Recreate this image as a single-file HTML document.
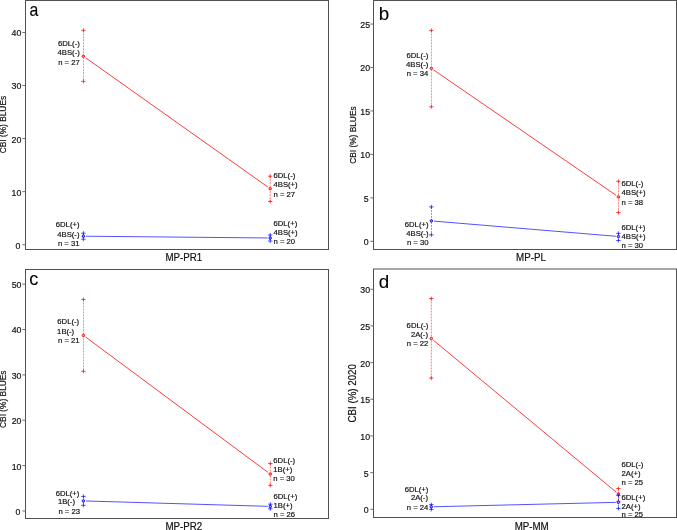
<!DOCTYPE html>
<html><head><meta charset="utf-8"><style>
html,body{margin:0;padding:0;background:#fff;}
body{width:677px;height:530px;overflow:hidden;}
svg{display:block;font-family:"Liberation Sans", sans-serif;will-change:transform;filter:blur(0.3px);}
</style></head><body>
<svg width="677" height="530" viewBox="0 0 677 530">
<rect width="677" height="530" fill="#fff"/>
<rect x="25.5" y="0.5" width="303.0" height="249.0" fill="none" stroke="#505050" stroke-width="1"/>
<line x1="22.3" y1="244.7" x2="25.5" y2="244.7" stroke="#606060" stroke-width="0.9"/>
<text transform="translate(20.30 248.60) scale(1.0 1.04)" font-size="8.8" text-anchor="end" fill="#111" stroke="#111" stroke-width="0.18">0</text>
<line x1="22.3" y1="191.65" x2="25.5" y2="191.65" stroke="#606060" stroke-width="0.9"/>
<text transform="translate(21.30 195.55) scale(1.0 1.04)" font-size="8.8" text-anchor="end" fill="#111" stroke="#111" stroke-width="0.18">10</text>
<line x1="22.3" y1="138.6" x2="25.5" y2="138.6" stroke="#606060" stroke-width="0.9"/>
<text transform="translate(21.30 142.50) scale(1.0 1.04)" font-size="8.8" text-anchor="end" fill="#111" stroke="#111" stroke-width="0.18">20</text>
<line x1="22.3" y1="85.55" x2="25.5" y2="85.55" stroke="#606060" stroke-width="0.9"/>
<text transform="translate(21.30 89.45) scale(1.0 1.04)" font-size="8.8" text-anchor="end" fill="#111" stroke="#111" stroke-width="0.18">30</text>
<line x1="22.3" y1="32.5" x2="25.5" y2="32.5" stroke="#606060" stroke-width="0.9"/>
<text transform="translate(21.30 36.40) scale(1.0 1.04)" font-size="8.8" text-anchor="end" fill="#111" stroke="#111" stroke-width="0.18">40</text>
<line x1="85.52" y1="57.70" x2="268.08" y2="187.20" stroke="#ff3c3c" stroke-width="1"/>
<line x1="86.00" y1="236.23" x2="267.60" y2="237.97" stroke="#5252ff" stroke-width="1"/>
<line x1="83.4" y1="30.3" x2="83.4" y2="81.4" stroke="#ff0000" stroke-width="0.7" stroke-dasharray="2,1" opacity="0.75"/>
<path d="M81.2 30.3h4.4M83.4 28.3v4" stroke="#ff0000" stroke-width="0.7"/>
<path d="M81.2 81.4h4.4M83.4 79.4v4" stroke="#ff0000" stroke-width="0.7"/>
<circle cx="83.4" cy="56.2" r="1.25" fill="#ff9a9a" stroke="#ff0000" stroke-width="0.9"/>
<line x1="270.2" y1="176.2" x2="270.2" y2="201.5" stroke="#ff0000" stroke-width="0.7" stroke-dasharray="2,1" opacity="0.75"/>
<path d="M268.0 176.2h4.4M270.2 174.2v4" stroke="#ff0000" stroke-width="0.7"/>
<path d="M268.0 201.5h4.4M270.2 199.5v4" stroke="#ff0000" stroke-width="0.7"/>
<circle cx="270.2" cy="188.7" r="1.25" fill="#ff9a9a" stroke="#ff0000" stroke-width="0.9"/>
<line x1="83.4" y1="233.2" x2="83.4" y2="239.2" stroke="#0000ff" stroke-width="0.7" stroke-dasharray="2,1" opacity="0.75"/>
<path d="M81.2 233.2h4.4M83.4 231.2v4" stroke="#0000ff" stroke-width="0.7"/>
<path d="M81.2 239.2h4.4M83.4 237.2v4" stroke="#0000ff" stroke-width="0.7"/>
<circle cx="83.4" cy="236.2" r="1.25" fill="#9a9aff" stroke="#0000ff" stroke-width="0.9"/>
<line x1="270.2" y1="235" x2="270.2" y2="241" stroke="#0000ff" stroke-width="0.7" stroke-dasharray="2,1" opacity="0.75"/>
<path d="M268.0 235h4.4M270.2 233v4" stroke="#0000ff" stroke-width="0.7"/>
<path d="M268.0 241h4.4M270.2 239v4" stroke="#0000ff" stroke-width="0.7"/>
<circle cx="270.2" cy="238" r="1.25" fill="#9a9aff" stroke="#0000ff" stroke-width="0.9"/>
<text transform="translate(79.80 46.00) scale(1.0 1.04)" font-size="7.7" text-anchor="end" fill="#111" stroke="#111" stroke-width="0.18">6DL(-)</text>
<text transform="translate(79.80 55.30) scale(1.0 1.04)" font-size="7.7" text-anchor="end" fill="#111" stroke="#111" stroke-width="0.18">4BS(-)</text>
<text transform="translate(79.80 64.50) scale(1.0 1.04)" font-size="7.7" text-anchor="end" fill="#111" stroke="#111" stroke-width="0.18">n = 27</text>
<text transform="translate(273.50 177.90) scale(1.0 1.04)" font-size="7.7" text-anchor="start" fill="#111" stroke="#111" stroke-width="0.18">6DL(-)</text>
<text transform="translate(273.50 187.20) scale(1.0 1.04)" font-size="7.7" text-anchor="start" fill="#111" stroke="#111" stroke-width="0.18">4BS(+)</text>
<text transform="translate(273.50 196.90) scale(1.0 1.04)" font-size="7.7" text-anchor="start" fill="#111" stroke="#111" stroke-width="0.18">n = 27</text>
<text transform="translate(79.50 227.20) scale(1.0 1.04)" font-size="7.7" text-anchor="end" fill="#111" stroke="#111" stroke-width="0.18">6DL(+)</text>
<text transform="translate(79.50 236.60) scale(1.0 1.04)" font-size="7.7" text-anchor="end" fill="#111" stroke="#111" stroke-width="0.18">4BS(-)</text>
<text transform="translate(79.50 245.70) scale(1.0 1.04)" font-size="7.7" text-anchor="end" fill="#111" stroke="#111" stroke-width="0.18">n = 31</text>
<text transform="translate(273.50 225.50) scale(1.0 1.04)" font-size="7.7" text-anchor="start" fill="#111" stroke="#111" stroke-width="0.18">6DL(+)</text>
<text transform="translate(273.50 234.80) scale(1.0 1.04)" font-size="7.7" text-anchor="start" fill="#111" stroke="#111" stroke-width="0.18">4BS(+)</text>
<text transform="translate(273.50 244.30) scale(1.0 1.04)" font-size="7.7" text-anchor="start" fill="#111" stroke="#111" stroke-width="0.18">n = 20</text>
<text transform="translate(29.40 15.80) scale(0.87 1.0)" font-size="18.2" text-anchor="start" fill="#000" stroke="#000" stroke-width="0.1">a</text>
<text transform="translate(183.80 260.80) scale(1.0 1.04)" font-size="9.75" text-anchor="middle" fill="#111" stroke="#111" stroke-width="0.18">MP-PR1</text>
<text transform="translate(6.2,124.6) rotate(-90) scale(1 1.04)" x="0" y="0" font-size="8.35" text-anchor="middle" fill="#111" stroke="#111" stroke-width="0.18">CBI (%) BLUEs</text>
<rect x="373.5" y="0.5" width="303.0" height="249.0" fill="none" stroke="#505050" stroke-width="1"/>
<line x1="370.3" y1="241.3" x2="373.5" y2="241.3" stroke="#606060" stroke-width="0.9"/>
<text transform="translate(368.60 245.20) scale(1.0 1.04)" font-size="8.8" text-anchor="end" fill="#111" stroke="#111" stroke-width="0.18">0</text>
<line x1="370.3" y1="197.85" x2="373.5" y2="197.85" stroke="#606060" stroke-width="0.9"/>
<text transform="translate(368.60 201.75) scale(1.0 1.04)" font-size="8.8" text-anchor="end" fill="#111" stroke="#111" stroke-width="0.18">5</text>
<line x1="370.3" y1="154.4" x2="373.5" y2="154.4" stroke="#606060" stroke-width="0.9"/>
<text transform="translate(370.10 158.30) scale(1.0 1.04)" font-size="8.8" text-anchor="end" fill="#111" stroke="#111" stroke-width="0.18">10</text>
<line x1="370.3" y1="110.95" x2="373.5" y2="110.95" stroke="#606060" stroke-width="0.9"/>
<text transform="translate(370.10 114.85) scale(1.0 1.04)" font-size="8.8" text-anchor="end" fill="#111" stroke="#111" stroke-width="0.18">15</text>
<line x1="370.3" y1="67.5" x2="373.5" y2="67.5" stroke="#606060" stroke-width="0.9"/>
<text transform="translate(370.10 71.40) scale(1.0 1.04)" font-size="8.8" text-anchor="end" fill="#111" stroke="#111" stroke-width="0.18">20</text>
<line x1="370.3" y1="24.05" x2="373.5" y2="24.05" stroke="#606060" stroke-width="0.9"/>
<text transform="translate(370.10 27.95) scale(1.0 1.04)" font-size="8.8" text-anchor="end" fill="#111" stroke="#111" stroke-width="0.18">25</text>
<line x1="433.49" y1="69.87" x2="616.26" y2="195.43" stroke="#ff3c3c" stroke-width="1"/>
<line x1="433.94" y1="221.12" x2="615.81" y2="236.28" stroke="#5252ff" stroke-width="1"/>
<line x1="431.35" y1="30.4" x2="431.35" y2="106.8" stroke="#ff0000" stroke-width="0.7" stroke-dasharray="2,1" opacity="0.75"/>
<path d="M429.15000000000003 30.4h4.4M431.35 28.4v4" stroke="#ff0000" stroke-width="0.7"/>
<path d="M429.15000000000003 106.8h4.4M431.35 104.8v4" stroke="#ff0000" stroke-width="0.7"/>
<circle cx="431.35" cy="68.4" r="1.25" fill="#ff9a9a" stroke="#ff0000" stroke-width="0.9"/>
<line x1="618.4" y1="181.3" x2="618.4" y2="212.6" stroke="#ff0000" stroke-width="0.7" stroke-dasharray="2,1" opacity="0.75"/>
<path d="M616.1999999999999 181.3h4.4M618.4 179.3v4" stroke="#ff0000" stroke-width="0.7"/>
<path d="M616.1999999999999 212.6h4.4M618.4 210.6v4" stroke="#ff0000" stroke-width="0.7"/>
<circle cx="618.4" cy="196.9" r="1.25" fill="#ff9a9a" stroke="#ff0000" stroke-width="0.9"/>
<line x1="431.35" y1="206.9" x2="431.35" y2="234.9" stroke="#0000ff" stroke-width="0.7" stroke-dasharray="2,1" opacity="0.75"/>
<path d="M429.15000000000003 206.9h4.4M431.35 204.9v4" stroke="#0000ff" stroke-width="0.7"/>
<path d="M429.15000000000003 234.9h4.4M431.35 232.9v4" stroke="#0000ff" stroke-width="0.7"/>
<circle cx="431.35" cy="220.9" r="1.25" fill="#9a9aff" stroke="#0000ff" stroke-width="0.9"/>
<line x1="618.4" y1="233.4" x2="618.4" y2="240.5" stroke="#0000ff" stroke-width="0.7" stroke-dasharray="2,1" opacity="0.75"/>
<path d="M616.1999999999999 233.4h4.4M618.4 231.4v4" stroke="#0000ff" stroke-width="0.7"/>
<path d="M616.1999999999999 240.5h4.4M618.4 238.5v4" stroke="#0000ff" stroke-width="0.7"/>
<circle cx="618.4" cy="236.5" r="1.25" fill="#9a9aff" stroke="#0000ff" stroke-width="0.9"/>
<text transform="translate(428.30 57.90) scale(1.0 1.04)" font-size="7.7" text-anchor="end" fill="#111" stroke="#111" stroke-width="0.18">6DL(-)</text>
<text transform="translate(428.30 66.60) scale(1.0 1.04)" font-size="7.7" text-anchor="end" fill="#111" stroke="#111" stroke-width="0.18">4BS(-)</text>
<text transform="translate(428.30 76.10) scale(1.0 1.04)" font-size="7.7" text-anchor="end" fill="#111" stroke="#111" stroke-width="0.18">n = 34</text>
<text transform="translate(621.50 186.00) scale(1.0 1.04)" font-size="7.7" text-anchor="start" fill="#111" stroke="#111" stroke-width="0.18">6DL(-)</text>
<text transform="translate(621.50 195.10) scale(1.0 1.04)" font-size="7.7" text-anchor="start" fill="#111" stroke="#111" stroke-width="0.18">4BS(+)</text>
<text transform="translate(621.50 204.70) scale(1.0 1.04)" font-size="7.7" text-anchor="start" fill="#111" stroke="#111" stroke-width="0.18">n = 38</text>
<text transform="translate(428.50 226.60) scale(1.0 1.04)" font-size="7.7" text-anchor="end" fill="#111" stroke="#111" stroke-width="0.18">6DL(+)</text>
<text transform="translate(428.50 235.70) scale(1.0 1.04)" font-size="7.7" text-anchor="end" fill="#111" stroke="#111" stroke-width="0.18">4BS(-)</text>
<text transform="translate(428.50 245.00) scale(1.0 1.04)" font-size="7.7" text-anchor="end" fill="#111" stroke="#111" stroke-width="0.18">n = 30</text>
<text transform="translate(621.50 229.90) scale(1.0 1.04)" font-size="7.7" text-anchor="start" fill="#111" stroke="#111" stroke-width="0.18">6DL(+)</text>
<text transform="translate(621.50 239.00) scale(1.0 1.04)" font-size="7.7" text-anchor="start" fill="#111" stroke="#111" stroke-width="0.18">4BS(+)</text>
<text transform="translate(621.50 248.00) scale(1.0 1.04)" font-size="7.7" text-anchor="start" fill="#111" stroke="#111" stroke-width="0.18">n = 30</text>
<text transform="translate(378.70 19.90) scale(1.0 1.0)" font-size="18.8" text-anchor="start" fill="#000" stroke="#000" stroke-width="0.1">b</text>
<text transform="translate(531.00 260.80) scale(1.0 1.04)" font-size="9.75" text-anchor="middle" fill="#111" stroke="#111" stroke-width="0.18">MP-PL</text>
<text transform="translate(355.5,135.1) rotate(-90) scale(1 1.04)" x="0" y="0" font-size="8.35" text-anchor="middle" fill="#111" stroke="#111" stroke-width="0.18">CBI (%) BLUEs</text>
<rect x="25.5" y="269.5" width="303.0" height="249.0" fill="none" stroke="#505050" stroke-width="1"/>
<line x1="22.3" y1="511.0" x2="25.5" y2="511.0" stroke="#606060" stroke-width="0.9"/>
<text transform="translate(20.30 514.90) scale(1.0 1.04)" font-size="8.8" text-anchor="end" fill="#111" stroke="#111" stroke-width="0.18">0</text>
<line x1="22.3" y1="465.63" x2="25.5" y2="465.63" stroke="#606060" stroke-width="0.9"/>
<text transform="translate(21.50 469.53) scale(1.0 1.04)" font-size="8.8" text-anchor="end" fill="#111" stroke="#111" stroke-width="0.18">10</text>
<line x1="22.3" y1="420.26" x2="25.5" y2="420.26" stroke="#606060" stroke-width="0.9"/>
<text transform="translate(21.50 424.16) scale(1.0 1.04)" font-size="8.8" text-anchor="end" fill="#111" stroke="#111" stroke-width="0.18">20</text>
<line x1="22.3" y1="374.89" x2="25.5" y2="374.89" stroke="#606060" stroke-width="0.9"/>
<text transform="translate(21.50 378.79) scale(1.0 1.04)" font-size="8.8" text-anchor="end" fill="#111" stroke="#111" stroke-width="0.18">30</text>
<line x1="22.3" y1="329.52" x2="25.5" y2="329.52" stroke="#606060" stroke-width="0.9"/>
<text transform="translate(21.50 333.42) scale(1.0 1.04)" font-size="8.8" text-anchor="end" fill="#111" stroke="#111" stroke-width="0.18">40</text>
<line x1="22.3" y1="284.15" x2="25.5" y2="284.15" stroke="#606060" stroke-width="0.9"/>
<text transform="translate(21.50 288.05) scale(1.0 1.04)" font-size="8.8" text-anchor="end" fill="#111" stroke="#111" stroke-width="0.18">50</text>
<line x1="85.49" y1="336.95" x2="268.21" y2="472.55" stroke="#ff3c3c" stroke-width="1"/>
<line x1="86.00" y1="500.98" x2="267.70" y2="506.32" stroke="#5252ff" stroke-width="1"/>
<line x1="83.4" y1="299.4" x2="83.4" y2="371.3" stroke="#ff0000" stroke-width="0.7" stroke-dasharray="2,1" opacity="0.75"/>
<path d="M81.2 299.4h4.4M83.4 297.4v4" stroke="#ff0000" stroke-width="0.7"/>
<path d="M81.2 371.3h4.4M83.4 369.3v4" stroke="#ff0000" stroke-width="0.7"/>
<circle cx="83.4" cy="335.4" r="1.25" fill="#ff9a9a" stroke="#ff0000" stroke-width="0.9"/>
<line x1="270.3" y1="463.5" x2="270.3" y2="485.4" stroke="#ff0000" stroke-width="0.7" stroke-dasharray="2,1" opacity="0.75"/>
<path d="M268.1 463.5h4.4M270.3 461.5v4" stroke="#ff0000" stroke-width="0.7"/>
<path d="M268.1 485.4h4.4M270.3 483.4v4" stroke="#ff0000" stroke-width="0.7"/>
<circle cx="270.3" cy="474.1" r="1.25" fill="#ff9a9a" stroke="#ff0000" stroke-width="0.9"/>
<line x1="83.4" y1="496.4" x2="83.4" y2="505.3" stroke="#0000ff" stroke-width="0.7" stroke-dasharray="2,1" opacity="0.75"/>
<path d="M81.2 496.4h4.4M83.4 494.4v4" stroke="#0000ff" stroke-width="0.7"/>
<path d="M81.2 505.3h4.4M83.4 503.3v4" stroke="#0000ff" stroke-width="0.7"/>
<circle cx="83.4" cy="500.9" r="1.25" fill="#9a9aff" stroke="#0000ff" stroke-width="0.9"/>
<line x1="270.3" y1="504.2" x2="270.3" y2="508.8" stroke="#0000ff" stroke-width="0.7" stroke-dasharray="2,1" opacity="0.75"/>
<path d="M268.1 504.2h4.4M270.3 502.2v4" stroke="#0000ff" stroke-width="0.7"/>
<path d="M268.1 508.8h4.4M270.3 506.8v4" stroke="#0000ff" stroke-width="0.7"/>
<circle cx="270.3" cy="506.4" r="1.25" fill="#9a9aff" stroke="#0000ff" stroke-width="0.9"/>
<text transform="translate(57.30 324.40) scale(1.0 1.04)" font-size="7.7" text-anchor="start" fill="#111" stroke="#111" stroke-width="0.18">6DL(-)</text>
<text transform="translate(57.10 333.50) scale(1.0 1.04)" font-size="7.7" text-anchor="start" fill="#111" stroke="#111" stroke-width="0.18">1B(-)</text>
<text transform="translate(58.00 343.40) scale(1.0 1.04)" font-size="7.7" text-anchor="start" fill="#111" stroke="#111" stroke-width="0.18">n = 21</text>
<text transform="translate(273.30 463.20) scale(1.0 1.04)" font-size="7.7" text-anchor="start" fill="#111" stroke="#111" stroke-width="0.18">6DL(-)</text>
<text transform="translate(273.30 472.00) scale(1.0 1.04)" font-size="7.7" text-anchor="start" fill="#111" stroke="#111" stroke-width="0.18">1B(+)</text>
<text transform="translate(273.30 481.00) scale(1.0 1.04)" font-size="7.7" text-anchor="start" fill="#111" stroke="#111" stroke-width="0.18">n = 30</text>
<text transform="translate(55.70 495.90) scale(1.0 1.04)" font-size="7.7" text-anchor="start" fill="#111" stroke="#111" stroke-width="0.18">6DL(+)</text>
<text transform="translate(57.90 504.30) scale(1.0 1.04)" font-size="7.7" text-anchor="start" fill="#111" stroke="#111" stroke-width="0.18">1B(-)</text>
<text transform="translate(58.40 514.30) scale(1.0 1.04)" font-size="7.7" text-anchor="start" fill="#111" stroke="#111" stroke-width="0.18">n = 23</text>
<text transform="translate(273.50 498.60) scale(1.0 1.04)" font-size="7.7" text-anchor="start" fill="#111" stroke="#111" stroke-width="0.18">6DL(+)</text>
<text transform="translate(273.50 507.50) scale(1.0 1.04)" font-size="7.7" text-anchor="start" fill="#111" stroke="#111" stroke-width="0.18">1B(+)</text>
<text transform="translate(273.50 517.00) scale(1.0 1.04)" font-size="7.7" text-anchor="start" fill="#111" stroke="#111" stroke-width="0.18">n = 26</text>
<text transform="translate(29.20 284.50) scale(1.0 1.0)" font-size="18" text-anchor="start" fill="#000" stroke="#000" stroke-width="0.1">c</text>
<text transform="translate(183.80 530.20) scale(1.0 1.04)" font-size="9.75" text-anchor="middle" fill="#111" stroke="#111" stroke-width="0.18">MP-PR2</text>
<text transform="translate(6.2,399.2) rotate(-90) scale(1 1.04)" x="0" y="0" font-size="8.35" text-anchor="middle" fill="#111" stroke="#111" stroke-width="0.18">CBI (%) BLUEs</text>
<rect x="373.5" y="269.0" width="303.0" height="248.5" fill="none" stroke="#505050" stroke-width="1"/>
<line x1="370.3" y1="509.3" x2="373.5" y2="509.3" stroke="#606060" stroke-width="0.9"/>
<text transform="translate(368.60 513.20) scale(1.0 1.04)" font-size="8.8" text-anchor="end" fill="#111" stroke="#111" stroke-width="0.18">0</text>
<line x1="370.3" y1="472.62" x2="373.5" y2="472.62" stroke="#606060" stroke-width="0.9"/>
<text transform="translate(368.60 476.52) scale(1.0 1.04)" font-size="8.8" text-anchor="end" fill="#111" stroke="#111" stroke-width="0.18">5</text>
<line x1="370.3" y1="435.95" x2="373.5" y2="435.95" stroke="#606060" stroke-width="0.9"/>
<text transform="translate(370.10 439.85) scale(1.0 1.04)" font-size="8.8" text-anchor="end" fill="#111" stroke="#111" stroke-width="0.18">10</text>
<line x1="370.3" y1="399.27" x2="373.5" y2="399.27" stroke="#606060" stroke-width="0.9"/>
<text transform="translate(370.10 403.17) scale(1.0 1.04)" font-size="8.8" text-anchor="end" fill="#111" stroke="#111" stroke-width="0.18">15</text>
<line x1="370.3" y1="362.6" x2="373.5" y2="362.6" stroke="#606060" stroke-width="0.9"/>
<text transform="translate(370.10 366.50) scale(1.0 1.04)" font-size="8.8" text-anchor="end" fill="#111" stroke="#111" stroke-width="0.18">20</text>
<line x1="370.3" y1="325.93" x2="373.5" y2="325.93" stroke="#606060" stroke-width="0.9"/>
<text transform="translate(370.10 329.83) scale(1.0 1.04)" font-size="8.8" text-anchor="end" fill="#111" stroke="#111" stroke-width="0.18">25</text>
<line x1="370.3" y1="289.25" x2="373.5" y2="289.25" stroke="#606060" stroke-width="0.9"/>
<text transform="translate(370.10 293.15) scale(1.0 1.04)" font-size="8.8" text-anchor="end" fill="#111" stroke="#111" stroke-width="0.18">30</text>
<line x1="433.30" y1="340.16" x2="616.40" y2="492.34" stroke="#ff3c3c" stroke-width="1"/>
<line x1="433.90" y1="506.74" x2="615.80" y2="502.36" stroke="#5252ff" stroke-width="1"/>
<line x1="431.3" y1="298.5" x2="431.3" y2="378.1" stroke="#ff0000" stroke-width="0.7" stroke-dasharray="2,1" opacity="0.75"/>
<path d="M429.1 298.5h4.4M431.3 296.5v4" stroke="#ff0000" stroke-width="0.7"/>
<path d="M429.1 378.1h4.4M431.3 376.1v4" stroke="#ff0000" stroke-width="0.7"/>
<circle cx="431.3" cy="338.5" r="1.25" fill="#ff9a9a" stroke="#ff0000" stroke-width="0.9"/>
<line x1="618.4" y1="488.5" x2="618.4" y2="501.3" stroke="#ff0000" stroke-width="0.7" stroke-dasharray="2,1" opacity="0.75"/>
<path d="M616.1999999999999 488.5h4.4M618.4 486.5v4" stroke="#ff0000" stroke-width="0.7"/>
<path d="M616.1999999999999 501.3h4.4M618.4 499.3v4" stroke="#ff0000" stroke-width="0.7"/>
<circle cx="618.4" cy="494" r="1.25" fill="#ff9a9a" stroke="#ff0000" stroke-width="0.9"/>
<line x1="431.3" y1="504.6" x2="431.3" y2="509.4" stroke="#0000ff" stroke-width="0.7" stroke-dasharray="2,1" opacity="0.75"/>
<path d="M429.1 504.6h4.4M431.3 502.6v4" stroke="#0000ff" stroke-width="0.7"/>
<path d="M429.1 509.4h4.4M431.3 507.4v4" stroke="#0000ff" stroke-width="0.7"/>
<circle cx="431.3" cy="506.8" r="1.25" fill="#9a9aff" stroke="#0000ff" stroke-width="0.9"/>
<line x1="618.4" y1="495.4" x2="618.4" y2="508.4" stroke="#0000ff" stroke-width="0.7" stroke-dasharray="2,1" opacity="0.75"/>
<path d="M616.1999999999999 495.4h4.4M618.4 493.4v4" stroke="#0000ff" stroke-width="0.7"/>
<path d="M616.1999999999999 508.4h4.4M618.4 506.4v4" stroke="#0000ff" stroke-width="0.7"/>
<circle cx="618.4" cy="502.3" r="1.25" fill="#9a9aff" stroke="#0000ff" stroke-width="0.9"/>
<text transform="translate(428.40 327.60) scale(1.0 1.04)" font-size="7.7" text-anchor="end" fill="#111" stroke="#111" stroke-width="0.18">6DL(-)</text>
<text transform="translate(428.00 336.70) scale(1.0 1.04)" font-size="7.7" text-anchor="end" fill="#111" stroke="#111" stroke-width="0.18">2A(-)</text>
<text transform="translate(428.40 346.00) scale(1.0 1.04)" font-size="7.7" text-anchor="end" fill="#111" stroke="#111" stroke-width="0.18">n = 22</text>
<text transform="translate(621.50 467.20) scale(1.0 1.04)" font-size="7.7" text-anchor="start" fill="#111" stroke="#111" stroke-width="0.18">6DL(-)</text>
<text transform="translate(621.50 476.40) scale(1.0 1.04)" font-size="7.7" text-anchor="start" fill="#111" stroke="#111" stroke-width="0.18">2A(+)</text>
<text transform="translate(621.50 485.00) scale(1.0 1.04)" font-size="7.7" text-anchor="start" fill="#111" stroke="#111" stroke-width="0.18">n = 25</text>
<text transform="translate(428.40 491.60) scale(1.0 1.04)" font-size="7.7" text-anchor="end" fill="#111" stroke="#111" stroke-width="0.18">6DL(+)</text>
<text transform="translate(428.00 500.30) scale(1.0 1.04)" font-size="7.7" text-anchor="end" fill="#111" stroke="#111" stroke-width="0.18">2A(-)</text>
<text transform="translate(428.40 509.60) scale(1.0 1.04)" font-size="7.7" text-anchor="end" fill="#111" stroke="#111" stroke-width="0.18">n = 24</text>
<text transform="translate(621.50 499.50) scale(1.0 1.04)" font-size="7.7" text-anchor="start" fill="#111" stroke="#111" stroke-width="0.18">6DL(+)</text>
<text transform="translate(621.50 508.50) scale(1.0 1.04)" font-size="7.7" text-anchor="start" fill="#111" stroke="#111" stroke-width="0.18">2A(+)</text>
<text transform="translate(621.50 517.30) scale(1.0 1.04)" font-size="7.7" text-anchor="start" fill="#111" stroke="#111" stroke-width="0.18">n = 25</text>
<text transform="translate(378.80 288.00) scale(1.0 1.0)" font-size="18.8" text-anchor="start" fill="#000" stroke="#000" stroke-width="0.1">d</text>
<text transform="translate(531.70 530.10) scale(1.0 1.04)" font-size="9.75" text-anchor="middle" fill="#111" stroke="#111" stroke-width="0.18">MP-MM</text>
<text transform="translate(356.0,393.3) rotate(-90) scale(1 1.04)" x="0" y="0" font-size="9.74" text-anchor="middle" fill="#111" stroke="#111" stroke-width="0.18">CBI (%) 2020</text>
</svg>
</body></html>
